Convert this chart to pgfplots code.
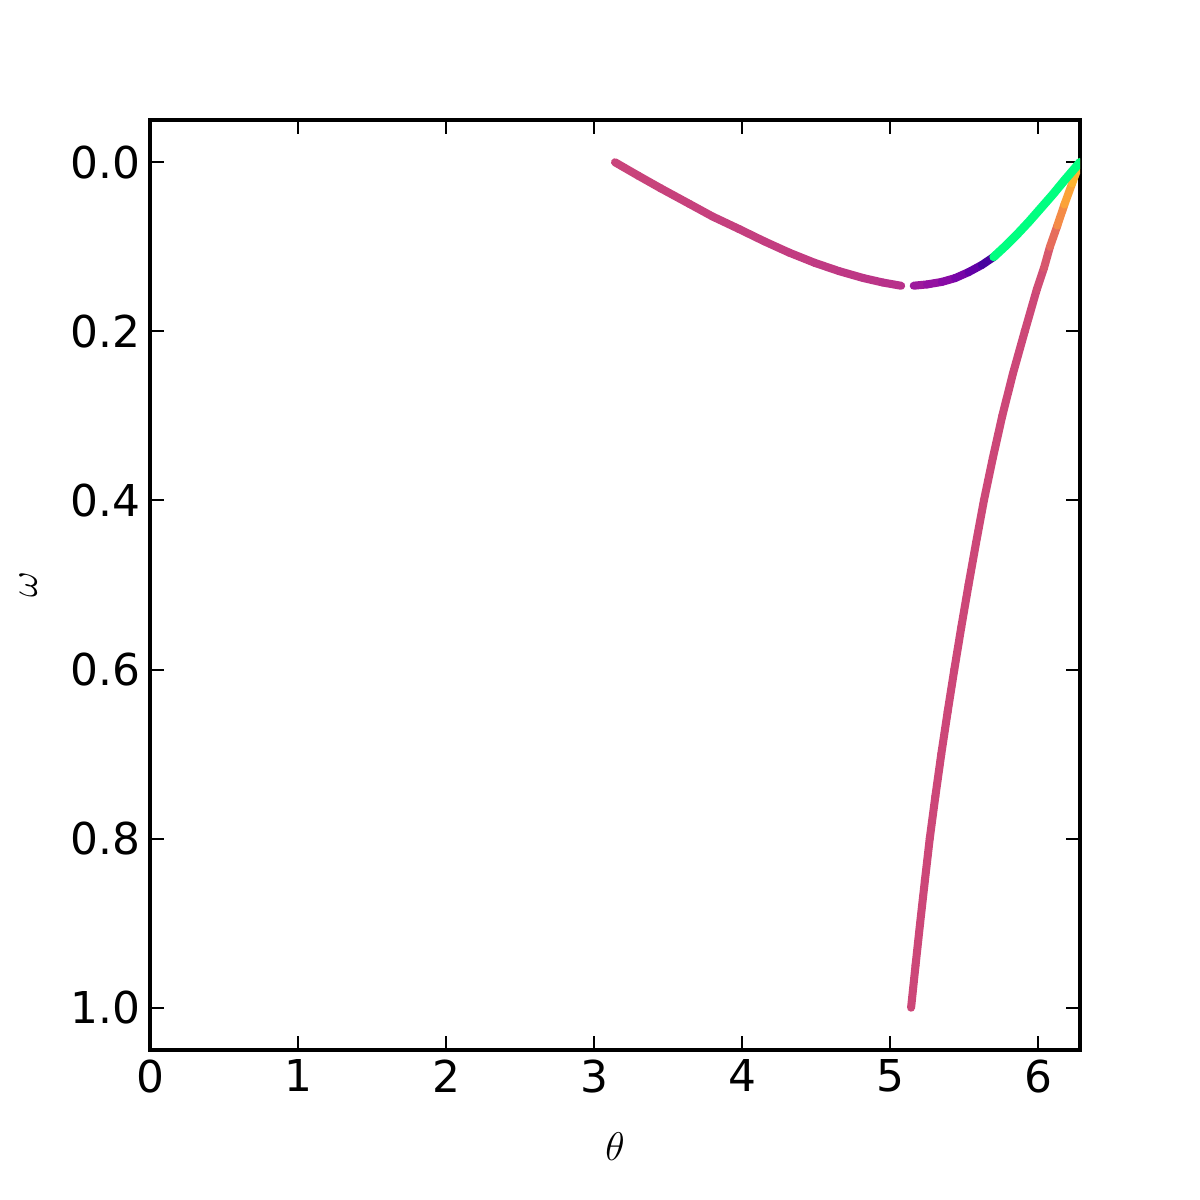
\documentclass[border=0pt]{standalone}
\usepackage{fontspec}
\setmainfont{DejaVu Sans}
\usepackage{pgfplots}
\pgfplotsset{compat=1.18}
\usetikzlibrary{calc}
\definecolor{spring}{HTML}{00FF80}
\pgfplotsset{colormap={plasma}{rgb255=(13,8,135) rgb255=(65,4,157) rgb255=(106,0,168)
  rgb255=(143,13,164) rgb255=(177,42,144) rgb255=(204,71,120) rgb255=(225,100,98)
  rgb255=(242,132,75) rgb255=(252,166,54) rgb255=(252,206,37) rgb255=(240,249,33)}}

\pgfplotstableread{
t w c
3.1416 0.0000 0.490
3.30 0.0160 0.488
3.45 0.0308 0.485
3.644 0.0492 0.482
3.80 0.0641 0.478
3.98 0.0790 0.474
4.15 0.0935 0.470
4.32 0.1070 0.465
4.49 0.1189 0.460
4.656 0.1288 0.452
4.82 0.1370 0.443
4.95 0.1422 0.432
5.075 0.1461 0.420
}\upperA
\pgfplotstableread{
t w c
5.16 0.1460 0.35
5.25 0.1445 0.33
5.35 0.1415 0.30
5.44 0.1370 0.26
5.53 0.1300 0.21
5.62 0.1215 0.15
5.70 0.1120 0.08
}\upperB
\pgfplotstableread{
t w
5.70 0.112
5.78 0.099
5.86 0.085
5.94 0.070
6.02 0.054
6.10 0.038
6.18 0.021
6.283 0.000
}\upperC
\pgfplotstableread{
t w c
5.142 1.00 0.50
5.172 0.95 0.50
5.203 0.90 0.50
5.235 0.85 0.50
5.268 0.80 0.50
5.306 0.75 0.50
5.346 0.70 0.50
5.389 0.65 0.50
5.434 0.60 0.50
5.481 0.55 0.50
5.530 0.50 0.50
5.581 0.45 0.50
5.634 0.40 0.50
5.694 0.35 0.50
5.758 0.30 0.50
5.830 0.25 0.50
5.910 0.20 0.50
5.992 0.15 0.51
6.040 0.125 0.53
6.080 0.10 0.58
6.130 0.075 0.68
6.178 0.05 0.76
6.230 0.025 0.82
6.283 0.00 0.85
}\lowercurve

\begin{document}
\begin{tikzpicture}
\begin{axis}[
  scale only axis, width=334.8pt, height=334.8pt,
  xmin=0, xmax=6.2832, ymin=-0.05, ymax=1.05, y dir=reverse,
  xtick={0,1,2,3,4,5,6}, ytick={0,0.2,0.4,0.6,0.8,1.0},
  yticklabel style={/pgf/number format/.cd, fixed, fixed zerofill, precision=1},
  /pgf/number format/assume math mode=true,
  tick align=inside, major tick length=5pt, minor tick num=0,
  every tick/.style={black, line width=0.7pt},
  axis line style={line width=1.4pt},
  tick label style={font=\fontsize{15.8}{18}\selectfont},
  label style={font=\fontsize{15.5}{18}\selectfont},
  xlabel={$\theta$}, ylabel={$\omega$},
  xlabel style={at={(axis description cs:0.5,-0.104)}, anchor=center},
  ylabel style={at={(axis description cs:-0.131,0.5)}, anchor=center},
  colormap name=plasma, point meta min=0, point meta max=1,
]
\addplot[mesh, point meta=explicit, line width=2.9pt, line cap=round, line join=round] table[x=t, y=w, meta=c] {\lowercurve};
\addplot[mesh, point meta=explicit, line width=2.9pt, line cap=round, line join=round] table[x=t, y=w, meta=c] {\upperA};
\addplot[mesh, point meta=explicit, line width=2.9pt, line cap=round, line join=round] table[x=t, y=w, meta=c] {\upperB};
\addplot[spring, line width=3.1pt, line cap=round, line join=round] table[x=t, y=w] {\upperC};
\end{axis}
\path ($(current axis.south west)+(-54pt,-54pt)$) rectangle ($(current axis.north east)+(43.2pt,43.2pt)$);
\end{tikzpicture}
\end{document}
